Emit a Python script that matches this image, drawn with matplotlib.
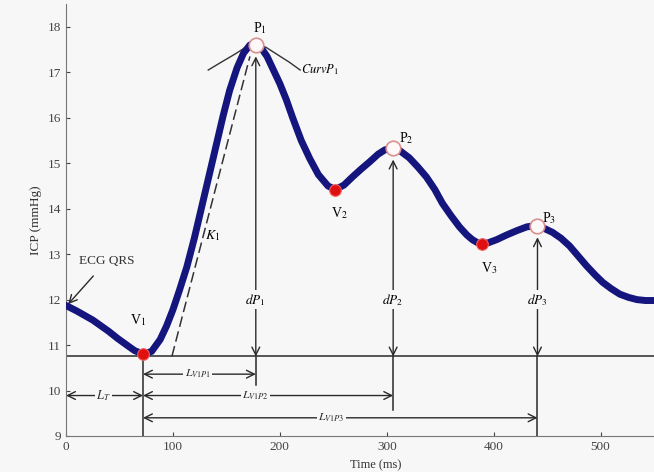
import numpy as np
import matplotlib.pyplot as plt

# --- data ---
time_ms = [0, 10, 25, 40, 48, 58, 64, 72, 80, 88, 94, 100, 106, 113, 120,
           128, 135, 141, 147, 153, 160, 166, 172, 178, 183, 188, 193, 200,
           206, 212, 220, 228, 236, 245, 252, 260, 268, 276, 284, 292, 298,
           303, 307, 312, 321, 329, 337, 345, 352, 360, 368, 375, 380, 385,
           389, 395, 403, 412, 422, 431, 437, 441, 446, 455, 463, 471, 479,
           487, 495, 502, 510, 518, 526, 534, 542, 550]
icp = [11.87, 11.75, 11.55, 11.3, 11.15, 10.98, 10.88, 10.8, 10.86, 11.12,
       11.42, 11.78, 12.2, 12.72, 13.35, 14.15, 14.85, 15.45, 16.05, 16.6,
       17.1, 17.42, 17.6, 17.63, 17.52, 17.35, 17.1, 16.75, 16.4, 16.0,
       15.5, 15.1, 14.75, 14.5, 14.42, 14.52, 14.7, 14.87, 15.03, 15.2,
       15.29, 15.33, 15.33, 15.28, 15.12, 14.92, 14.7, 14.42, 14.12, 13.85,
       13.6, 13.42, 13.32, 13.25, 13.22, 13.25, 13.32, 13.42, 13.52, 13.6,
       13.62, 13.62, 13.58, 13.48, 13.35, 13.18, 12.96, 12.74, 12.54, 12.38,
       12.24, 12.12, 12.05, 12.0, 11.98, 11.98]

valley_t = [72, 252, 389]
valley_p = [10.8, 14.42, 13.22]
valley_names = [r'V$_1$', r'V$_2$', r'V$_3$']

peak_t = [177.5, 306, 441]
peak_p = [17.6, 15.33, 13.62]
peak_names = [r'P$_1$', r'P$_2$', r'P$_3$']
dp_names = [r'$\mathbf{\mathit{dP}}_{\mathit{1}}$', r'$\mathbf{\mathit{dP}}_{\mathit{2}}$',
            r'$\mathbf{\mathit{dP}}_{\mathit{3}}$']

baseline = 10.75
# bottom of the reference line under each peak
peak_line_bottom = [10.13, 9.58, 9.0]
lat_names = [r'$L_{V1P1}$', r'$L_{V1P2}$', r'$L_{V1P3}$']
lat_y = [10.36, 9.89, 9.4]
lat_text_x = [123, 177, 248]

lt_y = 9.89

# K1 slope line and curvature arc at P1
k1_t = [99, 172]
k1_p = [10.75, 17.35]
curv_t = [133, 145, 158, 168, 177.5, 187, 197, 209, 219]
curv_p = [17.05, 17.22, 17.4, 17.55, 17.62, 17.55, 17.4, 17.22, 17.05]

plt.rcParams['font.family'] = ['Liberation Serif', 'DejaVu Serif']
plt.rcParams['mathtext.fontset'] = 'stix'

BG = '#f7f7f7'
INK = '#2a2a2a'

fig = plt.figure(figsize=(6.54, 4.72), dpi=100, facecolor=BG)
ax = fig.add_axes([0.101, 0.0763, 0.899, 0.915], facecolor=BG)

ax.set_xlim(0, 550)
ax.set_ylim(9, 18.5)
ax.set_xticks([0, 100, 200, 300, 400, 500])
ax.set_yticks(range(9, 19))
ax.tick_params(direction='in', length=3, labelsize=9.5, colors='#444444')
for s in ['top', 'right']:
    ax.spines[s].set_visible(False)
for s in ['left', 'bottom']:
    ax.spines[s].set_color('#777777')
ax.set_ylabel('ICP (mmHg)', fontsize=9.5, color='#333333', labelpad=4)
fig.text(0.575, 0.002, 'Time (ms)', ha='center', va='bottom', fontsize=9,
         color='#333333')

# baseline through V1
ax.axhline(baseline, color=INK, lw=1.1, zorder=2)

# K1 dashed tangent and curvature arc
ax.plot(k1_t, k1_p, color='#333333', lw=1.1, ls=(0, (7, 3)), zorder=3)
ax.plot(curv_t, curv_p, color='#333333', lw=1.0, zorder=3)

# ICP pulse
ax.plot(time_ms, icp, color='#15157e', lw=5, solid_capstyle='round',
        solid_joinstyle='round', zorder=4)

arrow_kw = dict(arrowstyle='<->', color=INK, lw=1.0, mutation_scale=14,
                shrinkA=0, shrinkB=0)
box = dict(boxstyle='square,pad=0.1', fc=BG, ec='none')

# V1 reference line
ax.plot([valley_t[0], valley_t[0]], [9, baseline], color=INK, lw=1.1, zorder=2)

for i in range(3):
    x = peak_t[i]
    # dP arrow from baseline to peak
    ax.annotate('', xy=(x, peak_p[i] - 0.25), xytext=(x, baseline),
                arrowprops=arrow_kw, zorder=3)
    ax.plot([x, x], [peak_line_bottom[i], baseline], color=INK, lw=1.1, zorder=2)
    ax.text(x, 12.0, dp_names[i], ha='center', va='center', fontsize=9.5,
            bbox=box, zorder=5)
    # latency arrows
    ax.annotate('', xy=(x, lat_y[i]), xytext=(valley_t[0], lat_y[i]),
                arrowprops=arrow_kw, zorder=3)
    ax.text(lat_text_x[i], lat_y[i], lat_names[i], ha='center', va='center',
            fontsize=8.5, bbox=box, zorder=5, color=INK)

# L_T
ax.annotate('', xy=(0, lt_y), xytext=(valley_t[0], lt_y), arrowprops=arrow_kw)
ax.text(35, lt_y, r'$L_T$', ha='center', va='center', fontsize=9, bbox=box,
        zorder=5, color=INK)

# markers
ax.scatter(valley_t, valley_p, s=70, color='#e01010', edgecolors='#f06060',
           linewidths=0.8, zorder=6)
ax.scatter(peak_t, peak_p, s=110, facecolors='#fff8f8', edgecolors='#d89090',
           linewidths=1.2, zorder=6)

ax.text(67, 11.55, valley_names[0], ha='center', va='center', fontsize=10)
ax.text(256, 13.9, valley_names[1], ha='center', va='center', fontsize=10)
ax.text(396, 12.7, valley_names[2], ha='center', va='center', fontsize=10)
ax.text(181, 17.97, peak_names[0], ha='center', va='center', fontsize=10)
ax.text(318, 15.55, peak_names[1], ha='center', va='center', fontsize=10)
ax.text(452, 13.8, peak_names[2], ha='center', va='center', fontsize=10)

ax.text(137, 13.4, r'$\mathbf{\mathit{K}}_{\mathit{1}}$', ha='center',
        va='center', fontsize=10)
ax.text(220, 17.05, r'$\mathbf{\mathit{CurvP}}_{\mathit{1}}$', ha='left',
        va='center', fontsize=9)

ax.annotate('ECG QRS', xy=(2, 11.9), xytext=(38, 12.85), ha='center',
            va='center', fontsize=9.5, color='#333333',
            arrowprops=dict(arrowstyle='->', color=INK, lw=1.0,
                            mutation_scale=14, shrinkA=6, shrinkB=0))

fig.savefig('out.png', dpi=100, facecolor=BG)
